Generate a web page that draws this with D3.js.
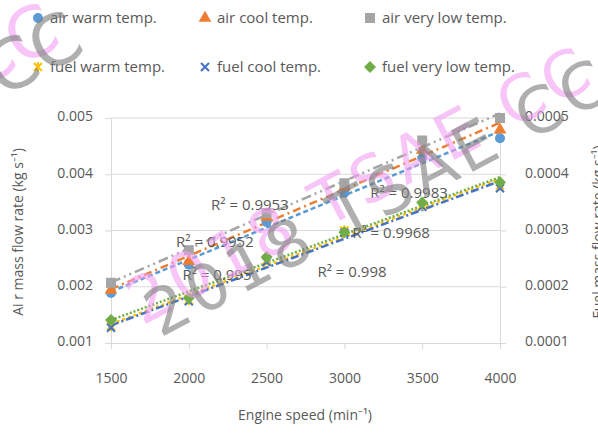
<!DOCTYPE html>
<html>
<head>
<meta charset="utf-8">
<script src="https://cdn.jsdelivr.net/npm/d3@7/dist/d3.min.js"></script>
<style>
  body { margin: 0; background: #fff; }
  text { font-family: "Open Sans", sans-serif; fill: #595959; }
</style>
</head>
<body>
<script>
// engine speed (min-1)
const speeds = [1500, 2000, 2500, 3000, 3500, 4000];

// air mass flow rate (kg s-1), left axis
const airWarm = [0.00189, 0.00239, 0.00315, 0.00367, 0.00429, 0.00464];
const airCool = [0.00194, 0.00245, 0.00324, 0.00377, 0.00443, 0.00479];
const airVeryLow = [0.00207, 0.00265, 0.00331, 0.00384, 0.0046, 0.005];

// fuel mass flow rate (kg s-1), right axis
const fuelWarm = [0.000130, 0.000176, 0.000247, 0.000300, 0.000345, 0.000380];
const fuelCool = [0.000127, 0.000174, 0.000244, 0.000296, 0.000342, 0.000375];
const fuelVeryLow = [0.000141, 0.000180, 0.000253, 0.000297, 0.000350, 0.000386];

const leftTicks = [0.001, 0.002, 0.003, 0.004, 0.005];
const rightTicks = [0.0001, 0.0002, 0.0003, 0.0004, 0.0005];

// r squared labels, placed in data units
const r2Labels = [
  {text: 'R² = 0.9953', x: 2393, y: 0.003364},
  {text: 'R² = 0.9952', x: 2168, y: 0.002707},
  {text: 'R² = 0.995', x: 2181, y: 0.00212},
  {text: 'R² = 0.9983', x: 3415, y: 0.003578},
  {text: 'R² = 0.9968', x: 3300, y: 0.002867},
  {text: 'R² = 0.998', x: 3049, y: 0.002173}
];

const series = [
  {name: 'air warm temp.', vals: airWarm, axis: 'L', color: '#5b9bd5', marker: 'circle', dash: '5,3'},
  {name: 'air cool temp.', vals: airCool, axis: 'L', color: '#ed7d31', marker: 'triangle', dash: '8,4,2,4'},
  {name: 'air very low temp.', vals: airVeryLow, axis: 'L', color: '#a5a5a5', marker: 'square', dash: '10,4,2,4,2,4'},
  {name: 'fuel warm temp.', vals: fuelWarm, axis: 'R', color: '#ffc000', marker: 'asterisk', dash: '3,3'},
  {name: 'fuel cool temp.', vals: fuelCool, axis: 'R', color: '#4472c4', marker: 'cross', dash: '8,3,2,3'},
  {name: 'fuel very low temp.', vals: fuelVeryLow, axis: 'R', color: '#70ad47', marker: 'diamond', dash: '2,2'}
];

const W = 598, H = 434;
const svg = d3.select('body').append('svg').attr('width', W).attr('height', H);

const x = d3.scaleLinear().domain([1500, 4000]).range([111, 500]);
const yL = d3.scaleLinear().domain([0.001, 0.005]).range([343, 118]);
const yR = d3.scaleLinear().domain([0.0001, 0.0005]).range([343, 118]);

// gridlines
svg.append('g').selectAll('line').data(leftTicks.slice(1)).join('line')
  .attr('x1', 111).attr('x2', 500)
  .attr('y1', d => yL(d)).attr('y2', d => yL(d))
  .attr('stroke', '#d9d9d9').attr('stroke-width', 1);

// axes
const axB = svg.append('g').attr('transform', 'translate(0,343)')
  .call(d3.axisBottom(x).tickValues(speeds).tickFormat(d3.format('d')).tickSize(6).tickPadding(24));
const axL = svg.append('g').attr('transform', 'translate(111,0)')
  .call(d3.axisLeft(yL).tickValues(leftTicks).tickFormat(d3.format('.3f')).tickSize(6).tickPadding(12));
const axR = svg.append('g').attr('transform', 'translate(500,0)')
  .call(d3.axisRight(yR).tickValues(rightTicks).tickFormat(d3.format('.4f')).tickSize(6).tickPadding(19));
[axB, axL, axR].forEach(a => {
  a.select('.domain').attr('stroke', '#d9d9d9');
  a.selectAll('.tick line').attr('stroke', '#d9d9d9');
  a.selectAll('.tick text').attr('font-size', 14).attr('fill', '#595959')
    .attr('font-family', '"Open Sans", sans-serif');
});
axL.selectAll('.tick text').attr('dy', '0.2em');
axR.selectAll('.tick text').attr('dy', '0.2em');

// axis titles
svg.append('text').attr('x', 305).attr('y', 420).attr('text-anchor', 'middle')
  .attr('font-size', 14).text('Engine speed (min⁻¹)');
svg.append('text').attr('transform', 'translate(23,232) rotate(-90)').attr('text-anchor', 'middle')
  .attr('font-size', 14).text('Ai r mass flow rate (kg s⁻¹)');
svg.append('text').attr('transform', 'translate(603,232) rotate(-90)').attr('text-anchor', 'middle')
  .attr('font-size', 14).text('Fuel mass flow rate (kg s⁻¹)');

// linear trend lines
function fit(vals) {
  const mx = d3.mean(speeds), my = d3.mean(vals);
  const sxy = d3.sum(speeds, (s, i) => (s - mx) * (vals[i] - my));
  const sxx = d3.sum(speeds, s => (s - mx) * (s - mx));
  const b = sxy / sxx;
  return s => my + b * (s - mx);
}

function drawMarker(g, type, color) {
  if (type === 'circle') g.append('circle').attr('r', 5).attr('fill', color);
  else if (type === 'triangle') g.append('path').attr('d', d3.symbol(d3.symbolTriangle, 70)()).attr('fill', color);
  else if (type === 'square') g.append('rect').attr('x', -5).attr('y', -5).attr('width', 10).attr('height', 10).attr('fill', color);
  else if (type === 'diamond') g.append('path').attr('d', 'M0,-6L6,0L0,6L-6,0Z').attr('fill', color);
  else if (type === 'cross') g.append('path').attr('d', 'M-4,-4L4,4M4,-4L-4,4').attr('stroke', color).attr('stroke-width', 2);
  else if (type === 'asterisk') g.append('path').attr('d', 'M-4,-4L4,4M4,-4L-4,4M0,-5L0,5').attr('stroke', color).attr('stroke-width', 2);
}

const line = d3.line();
series.forEach(s => {
  const y = s.axis === 'L' ? yL : yR;
  const f = fit(s.vals);
  svg.append('path')
    .attr('d', line([[x(1500), y(f(1500))], [x(4000), y(f(4000))]]))
    .attr('fill', 'none').attr('stroke', s.color).attr('stroke-width', 2.5)
    .attr('stroke-dasharray', s.dash);
});
series.forEach(s => {
  const y = s.axis === 'L' ? yL : yR;
  svg.append('g').selectAll('g').data(s.vals).join('g')
    .attr('transform', (d, i) => `translate(${x(speeds[i])},${y(d)})`)
    .each(function() { drawMarker(d3.select(this), s.marker, s.color); });
});

// R2 labels
svg.append('g').selectAll('text').data(r2Labels).join('text')
  .attr('x', d => x(d.x)).attr('y', d => yL(d.y)).attr('text-anchor', 'middle')
  .attr('font-size', 15).text(d => d.text);

// legend
const legX = [38, 205, 370], legY = [18, 67];
series.forEach((s, i) => {
  const g = svg.append('g').attr('transform', `translate(${legX[i % 3]},${legY[Math.floor(i / 3)]})`);
  drawMarker(g, s.marker, s.color);
  g.append('text').attr('x', 12).attr('y', 5).attr('font-size', 15).text(s.name);
});

// watermark
const wm = svg.append('g').attr('pointer-events', 'none');
function stamp(tx, ty, color, op, txt, anchor, size, spacing) {
  wm.append('text').attr('transform', `translate(${tx},${ty}) rotate(-28)`)
    .attr('text-anchor', anchor).attr('font-size', size)
    .attr('letter-spacing', spacing)
    .style('font-family', '"DejaVu Sans", sans-serif')
    .style('fill', color).attr('opacity', op).text(txt);
}
stamp(142, 326, '#f2a0f2', 0.6, '2018 TSAE CC', 'start', 64, 5);
stamp(160, 338, '#7f7f7f', 0.62, '2018 TSAE CC', 'start', 64, 5);
stamp(64, 44, '#f2a0f2', 0.6, 'CC', 'end', 70, 0);
stamp(88, 52, '#7f7f7f', 0.62, 'CC', 'end', 70, 0);
</script>
</body>
</html>
